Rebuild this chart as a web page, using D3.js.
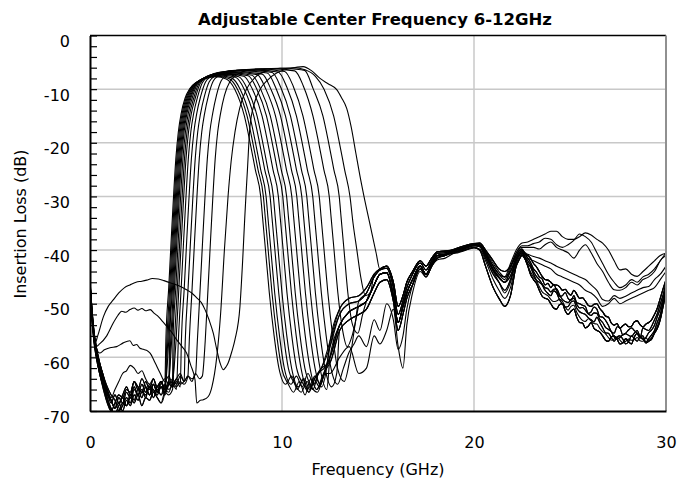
<!DOCTYPE html>
<html><head><meta charset="utf-8">
<script src="https://cdn.jsdelivr.net/npm/d3@7"></script>
<style>body{margin:0;background:#fff} svg{display:block}</style>
</head><body><svg id="c" width="678" height="485"></svg>
<script>
// ---------------- DATA ----------------
const titleText = "Adjustable Center Frequency 6-12GHz";
const xLabel = "Frequency (GHz)";
const yLabel = "Insertion Loss (dB)";
const xTicks = [0, 10, 20, 30];
const yTicks = [0, -10, -20, -30, -40, -50, -60, -70];
const yMinor = [0,-2,-4,-6,-8,-10,-12,-14,-16,-18,-20,-22,-24,-26,-28,-30,-32,-34,-36,-38,-40,-42,-44,-46,-48,-50,-52,-54,-56,-58,-60,-62,-64,-66,-68,-70];
const xGrid = [10, 20];
const yGrid = [-10, -20, -30, -40, -50, -60];

// low-frequency rejection region (GHz) and variants (dB)
const lowF = [0,0.1,0.2,0.35,0.5,0.7,0.9,1.1,1.3,1.5,1.7,1.9,2.1,2.3,2.5,2.7,2.9,3.1,3.3,3.5,3.7,3.9,4.1,4.3,4.5,4.7,4.9,5.1,5.3,5.5];
const lowV1 = [-46,-51.5,-55.5,-59,-61.5,-64,-66,-68,-69.5,-67.5,-68.5,-66.5,-67.5,-65.5,-67,-65,-66.5,-65.5,-67.5,-66,-67,-65,-66,-64.5,-65.5,-64,-65,-63.5,-64.5,-63.5];
const lowV2 = [-46.5,-52.5,-56.5,-60,-62.5,-65,-67.5,-69.5,-70.5,-69,-67.5,-69,-67,-68,-66,-67.5,-65.5,-67,-65,-66.5,-65.5,-67,-65,-65.5,-64,-65,-63.5,-64.5,-63,-64];
const lowV3 = [-45.5,-51,-55,-58.5,-61,-63.5,-66.5,-68.5,-67,-68.5,-67,-65.5,-67,-64.5,-66,-64,-65.5,-67,-65,-66.5,-64.5,-66,-66.5,-65,-66,-64.5,-65.5,-64,-64.5,-63.5];
const lowV4 = [-46,-52,-56,-60,-63,-65.5,-68,-70,-71,-70,-68.5,-69,-67.5,-68.5,-67,-69,-67.5,-68,-66.5,-67.5,-68.5,-66.5,-67,-66,-67,-65.5,-66,-65,-65.5,-64.5];
const lowV5 = [-47,-53,-57,-60.5,-63,-66,-68.5,-70,-68.5,-67,-67.5,-66,-66.5,-64.5,-65.5,-66.5,-64.5,-66,-64,-65.5,-64.5,-66.5,-65,-65.5,-64.5,-65.5,-64,-65,-63.5,-64];
const lowV6 = [-46,-51,-55,-58.5,-61,-63.5,-65.5,-67,-68,-70,-69,-67.5,-68.5,-66,-67,-66,-67.5,-65,-66.5,-65.5,-64.5,-66,-65,-64.5,-65.5,-64.5,-65,-63.5,-64.5,-63.5];
const lowV7 = [-46.5,-52,-56,-59.5,-62,-64.5,-67,-68,-69.5,-68.5,-70,-68,-69,-67,-68,-66.5,-67,-65.5,-66,-67,-65.5,-66,-64.5,-65.5,-64,-65,-64.5,-63.5,-64,-63];
const lowV8 = [-46,-51.5,-56,-59.5,-62,-64.5,-66.5,-67.5,-66,-64.5,-63,-62.5,-61.5,-62,-63,-62.5,-64,-65,-64,-66,-65,-64,-65,-64,-65,-63.5,-64.5,-63.5,-64,-63];

// passband bodies [GHz, dB]
const body1 = [[3.95,-57],[4.10,-47],[4.23,-38],[4.35,-30],[4.47,-23],[4.60,-18],[4.75,-14.5],[4.95,-11.7],[5.20,-9.9],[5.55,-8.7],[6.00,-8.0],[6.55,-7.7],[7.09,-8.1],[7.54,-10],[8.04,-15],[8.34,-20],[8.61,-25],[8.89,-30],[8.99,-34],[9.14,-40],[9.34,-48],[9.59,-56],[9.84,-62],[10.19,-65],[10.5,-63.5],[10.8,-66],[11.1,-64],[11.4,-66.5],[11.7,-63.5],[12.0,-65],[12.25,-63]];
const body2 = [[4.00,-57],[4.15,-47],[4.28,-38],[4.40,-30],[4.52,-23],[4.65,-18],[4.80,-14.5],[5.00,-11.7],[5.25,-9.8],[5.60,-8.6],[6.05,-7.9],[6.64,-7.6],[7.23,-8.0],[7.68,-10],[8.18,-15],[8.48,-20],[8.75,-25],[9.03,-30],[9.13,-34],[9.28,-40],[9.48,-48],[9.73,-56],[9.98,-62],[10.33,-65],[10.6,-66.5],[10.9,-64.5],[11.2,-67],[11.5,-64],[11.8,-66],[12.1,-63.5]];
const body3 = [[4.05,-57],[4.20,-47],[4.33,-38],[4.45,-30],[4.57,-23],[4.70,-18],[4.85,-14.5],[5.05,-11.7],[5.30,-9.7],[5.65,-8.5],[6.10,-7.8],[6.74,-7.5],[7.37,-7.9],[7.82,-10],[8.32,-15],[8.62,-20],[8.89,-25],[9.17,-30],[9.27,-34],[9.42,-40],[9.62,-48],[9.87,-56],[10.12,-62],[10.47,-65],[10.75,-63.5],[11.05,-65.5],[11.35,-63],[11.65,-65],[11.95,-62.5],[12.25,-61.5]];
const body4 = [[4.10,-57],[4.25,-47],[4.38,-38],[4.50,-30],[4.62,-23],[4.75,-18],[4.90,-14.5],[5.10,-11.7],[5.35,-9.6],[5.70,-8.4],[6.15,-7.7],[6.87,-7.4],[7.58,-7.8],[8.03,-10],[8.53,-15],[8.83,-20],[9.10,-25],[9.38,-30],[9.48,-34],[9.63,-40],[9.83,-48],[10.08,-56],[10.33,-62],[10.68,-65],[11.0,-66.5],[11.3,-64.5],[11.6,-66],[11.9,-63],[12.2,-62]];
const body5 = [[4.15,-57],[4.30,-47],[4.43,-38],[4.55,-30],[4.67,-23],[4.80,-18],[4.95,-14.5],[5.15,-11.7],[5.40,-9.5],[5.75,-8.3],[6.20,-7.6],[6.98,-7.3],[7.75,-7.7],[8.20,-10],[8.70,-15],[9.00,-20],[9.27,-25],[9.55,-30],[9.65,-34],[9.80,-40],[10.00,-48],[10.25,-56],[10.50,-62],[10.85,-65.5],[11.15,-64],[11.45,-66],[11.75,-63.5],[12.05,-62],[12.3,-60]];
const body6 = [[4.20,-57],[4.35,-47],[4.48,-38],[4.60,-30],[4.72,-23],[4.85,-18],[5.00,-14.5],[5.20,-11.7],[5.45,-9.4],[5.80,-8.2],[6.25,-7.5],[7.13,-7.2],[8.01,-7.6],[8.46,-10],[8.96,-15],[9.26,-20],[9.53,-25],[9.81,-30],[9.91,-34],[10.06,-40],[10.26,-48],[10.51,-56],[10.76,-62],[11.11,-65],[11.4,-66.5],[11.7,-64],[12.0,-62.5],[12.25,-60]];
const body7 = [[4.25,-57],[4.40,-47],[4.53,-38],[4.65,-30],[4.77,-23],[4.90,-18],[5.05,-14.5],[5.25,-11.7],[5.50,-9.3],[5.85,-8.1],[6.30,-7.4],[7.27,-7.1],[8.24,-7.5],[8.69,-10],[9.19,-15],[9.49,-20],[9.76,-25],[10.04,-30],[10.14,-34],[10.29,-40],[10.49,-48],[10.74,-56],[10.99,-62],[11.34,-66],[11.65,-64],[11.95,-65.5],[12.25,-62.5]];
const body8 = [[4.32,-57],[4.47,-47],[4.60,-38],[4.72,-30],[4.84,-23],[4.97,-18],[5.12,-14.5],[5.32,-11.7],[5.57,-9.2],[5.92,-8.0],[6.37,-7.3],[7.40,-7.0],[8.44,-7.4],[8.89,-10],[9.39,-15],[9.69,-20],[9.96,-25],[10.24,-30],[10.34,-34],[10.49,-40],[10.69,-48],[10.94,-56],[11.19,-62],[11.54,-65.5],[11.85,-66.5],[12.15,-63.5],[12.35,-61.5]];
const body9 = [[4.40,-57],[4.55,-47],[4.68,-38],[4.80,-30],[4.92,-23],[5.05,-18],[5.20,-14.5],[5.40,-11.7],[5.65,-9.1],[6.00,-7.9],[6.45,-7.2],[7.58,-6.9],[8.71,-7.3],[9.16,-10],[9.66,-15],[9.96,-20],[10.23,-25],[10.51,-30],[10.61,-34],[10.76,-40],[10.96,-48],[11.21,-56],[11.46,-62],[11.81,-66],[12.1,-64],[12.35,-61]];
const body10 = [[4.48,-57],[4.63,-47],[4.76,-38],[4.88,-30],[5.00,-23],[5.13,-18],[5.28,-14.5],[5.48,-11.7],[5.73,-9.0],[6.08,-7.8],[6.53,-7.1],[7.75,-6.8],[8.97,-7.2],[9.42,-10],[9.92,-15],[10.22,-20],[10.49,-25],[10.77,-30],[10.87,-34],[11.02,-40],[11.22,-48],[11.47,-56],[11.72,-62],[12.07,-65.5],[12.3,-62.5]];
const body11 = [[4.60,-57],[4.75,-47],[4.88,-38],[5.00,-30],[5.12,-23],[5.25,-18],[5.40,-14.5],[5.60,-11.5],[5.85,-8.8],[6.20,-7.6],[6.65,-6.9],[7.94,-6.6],[9.23,-7.0],[9.68,-9.8],[10.18,-15],[10.48,-20],[10.75,-25],[11.03,-30],[11.13,-34],[11.28,-40],[11.48,-48],[11.73,-56],[11.98,-62],[12.33,-66]];
const body12 = [[4.76,-57],[4.91,-47],[5.04,-38],[5.16,-30],[5.28,-23],[5.41,-18],[5.56,-14.5],[5.76,-11.4],[6.01,-8.7],[6.36,-7.5],[6.81,-6.8],[8.15,-6.5],[9.49,-6.9],[9.94,-9.7],[10.44,-15],[10.74,-20],[11.01,-25],[11.29,-30],[11.39,-34],[11.54,-40],[11.74,-48],[11.99,-56],[12.24,-62],[12.59,-65.5],[12.85,-63]];
const body13 = [[4.96,-57],[5.11,-47],[5.24,-38],[5.36,-30],[5.48,-23],[5.61,-18],[5.76,-14.5],[5.96,-11.3],[6.21,-8.6],[6.56,-7.4],[7.01,-6.7],[8.40,-6.4],[9.80,-6.8],[10.25,-9.6],[10.75,-15],[11.05,-20],[11.32,-25],[11.60,-30],[11.70,-34],[11.85,-40],[12.05,-48],[12.30,-56],[12.55,-62],[12.90,-65],[13.2,-62],[13.5,-59],[13.75,-57.5]];
const body14 = [[5.17,-57],[5.32,-47],[5.45,-38],[5.57,-30],[5.69,-23],[5.82,-18],[5.97,-14.5],[6.17,-11.2],[6.42,-8.5],[6.77,-7.3],[7.22,-6.6],[8.68,-6.3],[10.14,-6.7],[10.59,-9.5],[11.09,-15],[11.39,-20],[11.66,-25],[11.94,-30],[12.04,-34],[12.19,-40],[12.39,-48],[12.64,-56],[12.89,-62],[13.24,-64.5],[13.55,-60],[13.8,-54]];
const body15 = [[5.59,-57],[5.74,-47],[5.87,-38],[5.99,-30],[6.11,-23],[6.24,-18],[6.39,-14.5],[6.59,-11.1],[6.84,-8.4],[7.19,-7.2],[7.64,-6.5],[9.15,-6.2],[10.66,-6.6],[11.11,-9.4],[11.61,-15],[11.91,-20],[12.18,-25],[12.46,-30],[12.56,-34],[12.71,-40],[12.91,-48],[13.16,-55],[13.4,-58],[13.65,-56],[13.85,-53]];
const body16 = [[0,-46],[0.1,-51],[0.2,-55],[0.35,-58.5],[0.5,-59.2],[0.75,-58.6],[1.04,-58.2],[1.39,-58],[1.73,-57.3],[2.08,-56.9],[2.25,-57.8],[2.43,-57.6],[2.6,-58.3],[2.78,-58.5],[3.0,-58.8],[3.13,-59.2],[3.39,-61],[3.65,-62.9],[3.9,-64.5],[4.1,-63.5],[4.3,-65],[4.5,-64],[4.7,-63],[4.9,-64.5],[5.1,-63.5],[5.3,-64.5],[5.5,-63],[5.7,-64],[5.85,-63.5],[6.0,-57],[6.15,-47],[6.28,-38],[6.4,-30],[6.52,-23],[6.65,-18],[6.8,-14.5],[7.0,-11.2],[7.3,-8.5],[7.7,-7.2],[8.2,-6.5],[9.0,-6.2],[9.9,-6.1],[10.6,-6.25],[11.18,-6.5],[11.63,-10],[12.13,-15],[12.43,-20],[12.7,-25],[12.98,-30],[13.08,-34],[13.23,-40],[13.43,-48],[13.68,-54],[13.95,-55.5],[14.2,-52]];
const body17 = [[0,-46.5],[0.1,-52],[0.2,-56],[0.3,-58],[0.5,-57.5],[0.87,-56],[1.21,-53.6],[1.45,-52.2],[1.65,-51.4],[1.85,-51.6],[2.08,-51.1],[2.3,-50.8],[2.5,-51.2],[2.7,-50.9],[2.9,-51.3],[3.13,-51.1],[3.35,-51.8],[3.56,-52.4],[3.8,-53.4],[4.0,-54.2],[4.25,-55.3],[4.51,-56.7],[4.75,-57.8],[5.03,-59.2],[5.25,-61.5],[5.47,-64.2],[5.56,-68.5],[5.75,-68],[5.9,-67.9],[6.16,-67.3],[6.35,-65.5],[6.6,-60],[6.8,-52],[7.0,-40],[7.19,-30],[7.35,-23.5],[7.55,-18],[7.8,-13.5],[8.15,-10],[8.6,-7.8],[9.2,-6.6],[9.9,-6.1],[10.6,-6.0],[11.2,-6.4],[11.74,-7.6],[12.19,-10],[12.69,-15],[12.99,-20],[13.26,-25],[13.54,-30],[13.7,-35],[13.9,-40],[14.1,-45],[14.35,-48.5],[14.6,-48]];
const body18 = [[0,-46],[0.1,-51.5],[0.17,-55],[0.25,-57.5],[0.4,-56],[0.7,-52.4],[0.95,-50.5],[1.21,-49.3],[1.5,-48],[1.8,-47],[2.08,-46.5],[2.4,-46],[2.7,-45.8],[2.95,-45.6],[3.25,-45.3],[3.56,-45.4],[3.85,-45.7],[4.17,-46.1],[4.6,-46.6],[5.03,-47.4],[5.3,-48],[5.56,-48.9],[5.8,-49.8],[5.99,-51.1],[6.2,-53],[6.42,-55.5],[6.6,-58.5],[6.77,-61],[6.94,-62.3],[7.08,-61.8],[7.2,-61],[7.38,-59],[7.55,-56.7],[7.81,-50.5],[7.95,-42],[8.06,-34],[8.12,-30],[8.2,-25],[8.33,-17],[8.55,-12.8],[8.85,-10.1],[9.25,-8.3],[9.72,-7.0],[10.4,-6.2],[11.1,-5.8],[11.55,-6.6],[11.98,-8],[12.4,-9],[12.85,-10.1],[13.1,-11.6],[13.37,-13.6],[13.6,-17],[13.85,-22],[14.05,-26],[14.27,-30],[14.6,-35.5],[14.9,-40.5],[15.1,-43.6]];

// upper stopband (GHz) and variants (dB)
const midF = [12.5,13.0,13.5,14.0,14.4,14.8,15.1,15.45,15.8,16.05,16.3,16.5,16.8,17.2,17.5,17.8,18.1,18.5];
const midH1 = [-58,-52,-50,-49.5,-48,-45,-43.7,-43.4,-47,-52,-49.5,-47,-44.5,-42.4,-43.7,-42,-40.6,-40.5];
const midH2 = [-60,-54,-51.5,-50.5,-49.5,-46.5,-44.5,-44.2,-48.5,-53.5,-50.5,-48,-45.5,-43,-44.5,-42.5,-41,-40.8];
const midH3 = [-61,-55,-53,-52,-51,-48,-46,-45.5,-49.5,-55,-52,-49,-46.5,-43.5,-45,-43,-41.5,-41];
const midH4 = [-57,-51,-49,-48.5,-47,-44.5,-43.5,-43,-46,-50.5,-48.5,-46,-44,-42,-43,-41.5,-40.3,-40.2];
const midD1 = [-63,-60,-58,-63,-62,-56,-57.5,-55,-51,-58,-62,-54,-48,-44,-45,-43,-41.8,-41.5];
const midD2 = [-62,-57,-55,-56,-58,-53,-55,-50,-53,-58.5,-56,-51,-46.5,-43,-44.5,-42.8,-41.3,-41];

const tailF = [19.0,19.5,20.0,20.3,20.6,21.0,21.3,21.6,21.9,22.2,22.5,22.8,23.1,23.4,23.7,24.0,24.3,24.6,24.9,25.2,25.5,25.8,26.1,26.4,26.7,27.0,27.3,27.6,27.9,28.2,28.5,28.8,29.1,29.4,29.7,30.0];
const tailT1 = [-40,-39.5,-39,-39,-40.5,-43,-44.5,-45,-44, -41.5,-40,-41.5,-43.5,-45,-46.5,-47,-47.5,-48.5, -49,-48.5,-50,-50.5,-51.5,-51,-52.5,-54,-55.5, -54.5,-55.5,-54.5,-55.5,-54.5,-55,-53,-50,-46];
const tailT2 = [-40.3,-39.8,-39.2,-39.4,-41.5,-44.5,-46,-47.5,-45.5, -42,-40.5,-42.5,-44.5,-46,-47.5,-48.5,-48,-50, -50.5,-49.5,-51.5,-52,-53,-52.5,-54.5,-55.5,-57, -56,-57.5,-56,-57,-56,-56.5,-55,-52,-47.5];
const tailT3 = [-40.5,-40,-39.5,-40,-43,-47,-49,-50.5,-48.5, -43,-41,-43,-45.5,-47.5,-49,-50,-51,-50, -52,-51,-53.5,-54.5,-53.5,-55,-56,-57,-56, -57.5,-56.5,-57.5,-55.5,-56.5,-57,-55.5,-53,-48];
const tailT4 = [-39.8,-39.2,-38.8,-38.7,-40,-42,-43.5,-44,-43, -41,-39.8,-41,-42.5,-44,-45.5,-46,-46.5,-47.5, -48,-47.5,-49,-49.5,-50.5,-50,-51.5,-52.5,-54, -54.6,-53.8,-54.2,-53.2,-54.3,-53.5,-52,-49,-45.5];
const tailT5 = [-40.1,-39.6,-39.1,-39.2,-41,-43.8,-45.2,-46,-44.8, -41.8,-40.3,-42,-44,-45.5,-47,-47.8,-47.2,-49.2, -49.8,-49,-50.8,-51.2,-52.2,-51.8,-53.5,-54.8,-56.2, -56.3,-55.6,-56.1,-55,-56.6,-55.4,-54,-51,-46.8];
const tailT6 = [-40.6,-40.1,-39.6,-39.8,-42,-45.5,-47.5,-49,-47, -42.5,-40.8,-42.8,-45,-46.8,-48.2,-49.2,-49.5,-49.5, -51.2,-50.3,-52.5,-53.3,-53.2,-53.8,-55.2,-56.3,-56.6, -56.8,-57,-56.8,-56.3,-57,-56.8,-55.3,-52.5,-47.8];
const tailU1 = [-39.9,-39.4,-39,-39,-40.3,-42.5,-44,-45,-42.5, -40,-38.7,-38.5,-38,-37.5,-37,-36.5,-36.5,-37.5, -38,-38,-37.5,-36.8,-37.2,-38,-38.7,-40,-42, -43.7,-43.5,-44.5,-44.9,-44,-43,-42,-41,-40.6];
const tailU2 = [-40,-39.6,-39.1,-39.2,-40.8,-43.5,-45,-46,-43.5, -40.5,-39.2,-39.2,-38.8,-38.5,-37.8,-38,-39,-39.5, -39,-38.2,-37,-37.5,-38.5,-40.5,-42.5,-44.5,-46, -47,-46.5,-45.5,-46,-45,-44.5,-43.5,-42,-40.5];
const tailU3 = [-39.9,-39.5,-39,-39.1,-40.5,-43,-44.5,-45.5,-43, -40.5,-39.5,-39.5,-39.5,-39.8,-39,-38.5,-39.5,-40, -40.5,-41.5,-40,-39,-40.5,-42.5,-44,-46,-47.4, -47.5,-47,-46,-46.5,-45.5,-45,-44,-42,-41];
const tailM1 = [-40,-39.5,-39,-39.2,-40.8,-43.5,-45,-46,-44, -41.5,-40.2,-40.8,-41.2,-41.5,-42,-42.4,-43,-43.5, -44,-44.5,-45,-45.5,-46.5,-47.5,-49.2,-49.5,-48.5, -49,-48.6,-48,-47.5,-47,-46.8,-45.5,-44.5,-43];
const tailM2 = [-40.2,-39.7,-39.2,-39.3,-41,-44,-46,-48,-46, -42,-40.6,-41.5,-42,-42.5,-43,-43.5,-44.5,-45, -45.5,-46,-46.5,-47.5,-48,-49,-50.5,-50,-49, -50,-49.5,-49,-48.5,-48,-47.5,-47,-45.5,-44];

// extra in-between readings of the noisy 22-30 GHz region (GHz) and values (dB)
const fineF = [22.35,22.65,22.95,23.25,23.55,23.85,24.15,24.45,24.75,25.05,25.35,25.65,25.95,26.25,26.55,26.85,27.15,27.45,27.75,28.05,28.35,28.65,28.95,29.25,29.55,29.85];
const fineT1 = [-40.5,-40.6,-42.3,-44.1,-45.4,-46.2,-46.4,-48.6,-47.9,-49.4,-49.8,-50.3,-51.8,-50.6,-52.4,-53.1,-55.2,-54.3,-55.8,-54.9,-55,-56.4,-54.8,-54.2,-51.8,-48.3];
const fineT2 = [-41,-41.4,-43.2,-45.6,-46.5,-48.1,-47.6,-49.2,-50.6,-49.7,-50.8,-51.8,-52.6,-53.4,-53.5,-55.4,-56.3,-56.2,-56.6,-57.1,-56.5,-56.1,-57.2,-55.8,-53.4,-49.6];
const fineT3 = [-41.8,-41.6,-44.6,-46.2,-48.6,-49.2,-50.8,-50.2,-51.3,-51.4,-52.5,-53.6,-54.2,-54.6,-55.3,-56.8,-56.2,-56.6,-57.3,-57.1,-56.2,-56.2,-57.3,-56.6,-54.6,-50.5];
const fineT4 = [-40.1,-40.7,-41.6,-43.1,-44.9,-45.6,-46.5,-46.8,-47.3,-48.4,-48.2,-48.9,-50.3,-50.1,-50.9,-52.3,-53.6,-53.7,-54.1,-54.3,-53.4,-53.9,-53.8,-53,-50.8,-47.2];
const fineT5 = [-40.9,-41.2,-42.8,-44.9,-46.3,-47.2,-47.3,-48.3,-49.6,-49.2,-50.1,-50.7,-51.9,-51.7,-52.9,-54.4,-55.2,-56.6,-55.8,-55.9,-55.5,-56.2,-56.3,-54.9,-52.4,-49];
const fineT6 = [-41.4,-41.6,-44.1,-45.7,-47.8,-48.5,-49.6,-49.2,-50.6,-50.5,-51.6,-53.1,-52.8,-53.7,-54.6,-55.6,-56.8,-56.2,-57.3,-56.6,-56.7,-56.9,-56.4,-56.3,-54.2,-50.1];

// ---------------- CHART ----------------
const curves = [
  {low: lowV1, body: body1,  mid: midD1, tail: tailT3, fine: fineT3},
  {low: lowV2, body: body2,  mid: midH2, tail: tailT2, fine: fineT2},
  {low: lowV3, body: body3,  mid: midH3, tail: tailT3, fine: fineT3},
  {low: lowV4, body: body4,  mid: midH2, tail: tailT4, fine: fineT4},
  {low: lowV5, body: body5,  mid: midH1, tail: tailT1, fine: fineT1},
  {low: lowV6, body: body6,  mid: midH4, tail: tailT4, fine: fineT4},
  {low: lowV7, body: body7,  mid: midH3, tail: tailT1, fine: fineT1},
  {low: lowV2, body: body8,  mid: midH2, tail: tailT5, fine: fineT5},
  {low: lowV4, body: body9,  mid: midH1, tail: tailT6, fine: fineT6},
  {low: lowV1, body: body10, mid: midH4, tail: tailT2, fine: fineT2},
  {low: lowV3, body: body11, mid: midH2, tail: tailT3, fine: fineT3},
  {low: lowV5, body: body12, mid: midH3, tail: tailT5, fine: fineT5},
  {low: lowV7, body: body13, mid: midD2, tail: tailM1, fine: null},
  {low: lowV6, body: body14, mid: midH1, tail: tailT4, fine: fineT4},
  {low: lowV8, body: body15, mid: midH2, tail: tailM2, fine: null},
  {low: null,  body: body16, mid: midH2, tail: tailU3, fine: null},
  {low: null,  body: body17, mid: midH4, tail: tailU2, fine: null},
  {low: null,  body: body18, mid: midH4, tail: tailU1, fine: null}
];

function compose(c) {
  let pts = [];
  const b0 = c.body[0][0], bN = c.body[c.body.length - 1][0];
  if (c.low) lowF.forEach((f, i) => { if (f < b0) pts.push([f, c.low[i]]); });
  pts = pts.concat(c.body);
  midF.forEach((f, i) => { if (f > bN) pts.push([f, c.mid[i]]); });
  tailF.forEach((f, i) => pts.push([f, c.tail[i]]));
  if (c.fine) fineF.forEach((f, i) => pts.push([f, c.fine[i]]));
  return pts.sort((a, b) => a[0] - b[0]);
}

const W = 678, H = 485;
const P = {left: 90, right: 666, top: 35.5, bottom: 411};
const x = d3.scaleLinear().domain([0, 30]).range([P.left, P.right]);
const y = d3.scaleLinear().domain([-70, 0]).range([P.bottom, P.top]);
const FONT = "'DejaVu Sans', sans-serif";

const svg = d3.select('#c');
svg.append('rect').attr('width', W).attr('height', H).attr('fill', '#fff');

svg.append('defs').append('clipPath').attr('id', 'plot')
  .append('rect').attr('x', P.left).attr('y', P.top - 2)
  .attr('width', P.right - P.left).attr('height', P.bottom - P.top + 2);

// grid
svg.append('g').selectAll('line').data(xGrid).join('line')
  .attr('x1', d => x(d)).attr('x2', d => x(d))
  .attr('y1', y(0)).attr('y2', y(-70))
  .attr('stroke', '#c8c8c8').attr('stroke-width', 1.5);
svg.append('g').selectAll('line').data(yGrid).join('line')
  .attr('x1', x(0)).attr('x2', x(30))
  .attr('y1', d => y(d)).attr('y2', d => y(d))
  .attr('stroke', '#c8c8c8').attr('stroke-width', 1.5);

// curves
const line = d3.line().x(d => x(d[0])).y(d => y(d[1])).curve(d3.curveMonotoneX);
svg.append('g').attr('clip-path', 'url(#plot)')
  .selectAll('path').data(curves.map(compose)).join('path')
  .attr('d', line).attr('fill', 'none')
  .attr('stroke', '#000').attr('stroke-width', 1.1);

// borders
svg.append('line').attr('x1', x(0)).attr('x2', x(30)).attr('y1', y(0)).attr('y2', y(0))
  .attr('stroke', '#000').attr('stroke-width', 1.5);
svg.append('line').attr('x1', x(30)).attr('x2', x(30)).attr('y1', y(0)).attr('y2', y(-70))
  .attr('stroke', '#909090').attr('stroke-width', 2);

// y minor ticks (inside)
const gyMinor = svg.append('g').attr('transform', `translate(${P.left},0)`)
  .call(d3.axisLeft(y).tickValues(yMinor).tickSize(-7).tickSizeOuter(0).tickFormat(''));
gyMinor.select('.domain').attr('stroke', '#000').attr('stroke-width', 2);
gyMinor.selectAll('.tick line').attr('stroke', '#000').attr('stroke-width', 1.2);

// y labels
const gyLab = svg.append('g').attr('transform', `translate(${P.left},0)`)
  .call(d3.axisLeft(y).tickValues(yTicks).tickSize(0).tickPadding(20).tickFormat(d => String(d)));
gyLab.select('.domain').remove();
gyLab.selectAll('text').attr('font-family', FONT).attr('font-size', 16).attr('fill', '#000').attr('dy', '0.69em');

// x axis
const gx = svg.append('g').attr('transform', `translate(0,${P.bottom})`)
  .call(d3.axisBottom(x).tickValues(xTicks).tickSize(0).tickSizeOuter(0).tickPadding(26).tickFormat(d => String(d)));
gx.select('.domain').attr('stroke', '#000').attr('stroke-width', 2.2);
gx.selectAll('text').attr('font-family', FONT).attr('font-size', 16).attr('fill', '#000');

// titles
svg.append('text').attr('x', 375).attr('y', 25).attr('text-anchor', 'middle')
  .attr('font-family', FONT).attr('font-weight', 'bold').attr('font-size', 16.5)
  .attr('fill', '#000').text(titleText);
svg.append('text').attr('x', 378).attr('y', 475).attr('text-anchor', 'middle')
  .attr('font-family', FONT).attr('font-size', 16).attr('fill', '#000').text(xLabel);
svg.append('text').attr('transform', 'translate(26,224) rotate(-90)').attr('text-anchor', 'middle')
  .attr('font-family', FONT).attr('font-size', 16).attr('fill', '#000').text(yLabel);
</script>
</body></html>
